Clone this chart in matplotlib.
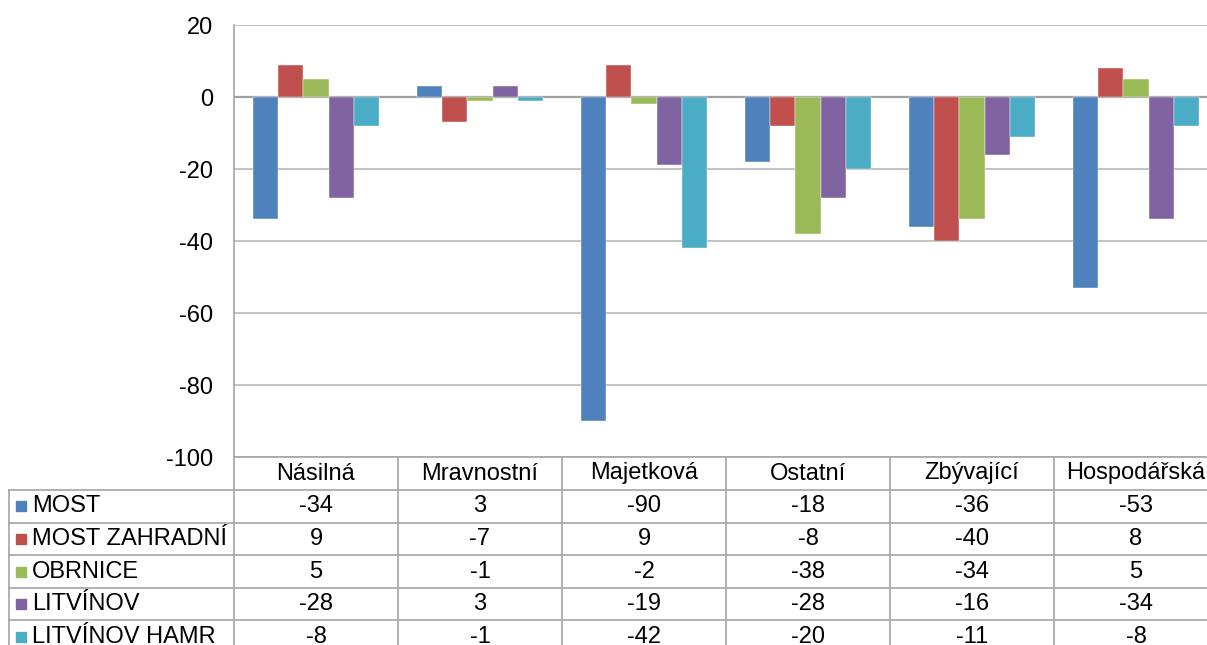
import matplotlib
matplotlib.use("Agg")
import matplotlib.pyplot as plt
from matplotlib.patches import Rectangle
import numpy as np

plt.rcParams['font.family'] = ['Liberation Sans', 'DejaVu Sans']

categories = ["Násilná", "Mravnostní", "Majetková", "Ostatní", "Zbývající", "Hospodářská"]
series_names = ["MOST", "MOST ZAHRADNÍ", "OBRNICE", "LITVÍNOV", "LITVÍNOV HAMR"]
most = [-34, 3, -90, -18, -36, -53]
most_zahradni = [9, -7, 9, -8, -40, 8]
obrnice = [5, -1, -2, -38, -34, 5]
litvinov = [-28, 3, -19, -28, -16, -34]
litvinov_hamr = [-8, -1, -42, -20, -11, -8]
series_values = [most, most_zahradni, obrnice, litvinov, litvinov_hamr]
colors = ["#4F81BD", "#C0504D", "#9BBB59", "#8064A2", "#4BACC6"]
yticks = [-100, -80, -60, -40, -20, 0, 20]

W, H = 1207, 645
fig = plt.figure(figsize=(W / 100, H / 100), dpi=100)

# layout in pixels
ax_left, ax_right, ax_top, ax_bottom = 234, 1218, 25, 457
ax = fig.add_axes([ax_left / W, (H - ax_bottom) / H,
                   (ax_right - ax_left) / W, (ax_bottom - ax_top) / H])

n = len(categories)
x = np.arange(n)
bw = 0.154
for i, (vals, c) in enumerate(zip(series_values, colors)):
    ax.bar(x + (i - 2) * bw, vals, width=bw, color=c, edgecolor="#ffffff",
           linewidth=0.3, zorder=3)

ax.set_xlim(-0.5, n - 0.5)
ax.set_ylim(-100, 20)
ax.set_yticks(yticks)
ax.set_yticklabels([str(t) for t in yticks], fontsize=17)
ax.set_xticks([])
ax.tick_params(axis='y', length=0, pad=15)
ax.yaxis.grid(True, color="#b8b8b8", linewidth=1.2, zorder=0)
ax.axhline(0, color="#a0a0a0", linewidth=1.6, zorder=2)
for s in ["top", "right", "bottom"]:
    ax.spines[s].set_visible(False)
ax.spines["left"].set_color("#a6a6a6")
ax.spines["left"].set_linewidth(1.2)

# data table below the plot, in pixel coordinates
tab = fig.add_axes([0, 0, 1, 1], zorder=5)
tab.set_xlim(0, W)
tab.set_ylim(H, 0)
tab.axis("off")
tab.patch.set_alpha(0)

lc = "#a6a6a6"
lw = 1.2
tbl_left = 9
colw = (ax_right - ax_left) / n
row_h = 32.6
header_top = ax_bottom
rows_top = header_top + 33
n_rows = len(series_names)
tbl_bottom = rows_top + row_h * n_rows

# horizontal lines
tab.plot([ax_left, ax_right], [header_top, header_top], color=lc, lw=lw)
for r in range(n_rows + 1):
    yy = rows_top + r * row_h
    tab.plot([tbl_left, ax_right], [yy, yy], color=lc, lw=lw)
# vertical lines
tab.plot([tbl_left, tbl_left], [rows_top, tbl_bottom], color=lc, lw=lw)
for j in range(n + 1):
    xx = ax_left + j * colw
    tab.plot([xx, xx], [header_top, tbl_bottom], color=lc, lw=lw)

fs = 17
for j, cat in enumerate(categories):
    tab.text(ax_left + (j + 0.5) * colw, header_top + 16.5, cat,
             ha="center", va="center", fontsize=fs)
for r, (name, vals, c) in enumerate(zip(series_names, series_values, colors)):
    yc = rows_top + (r + 0.5) * row_h
    tab.add_patch(Rectangle((16, yc - 5), 10, 10, color=c))
    tab.text(32, yc, name, ha="left", va="center", fontsize=fs)
    for j, v in enumerate(vals):
        tab.text(ax_left + (j + 0.5) * colw, yc, str(v),
                 ha="center", va="center", fontsize=fs)

fig.savefig("out.png", dpi=100)
